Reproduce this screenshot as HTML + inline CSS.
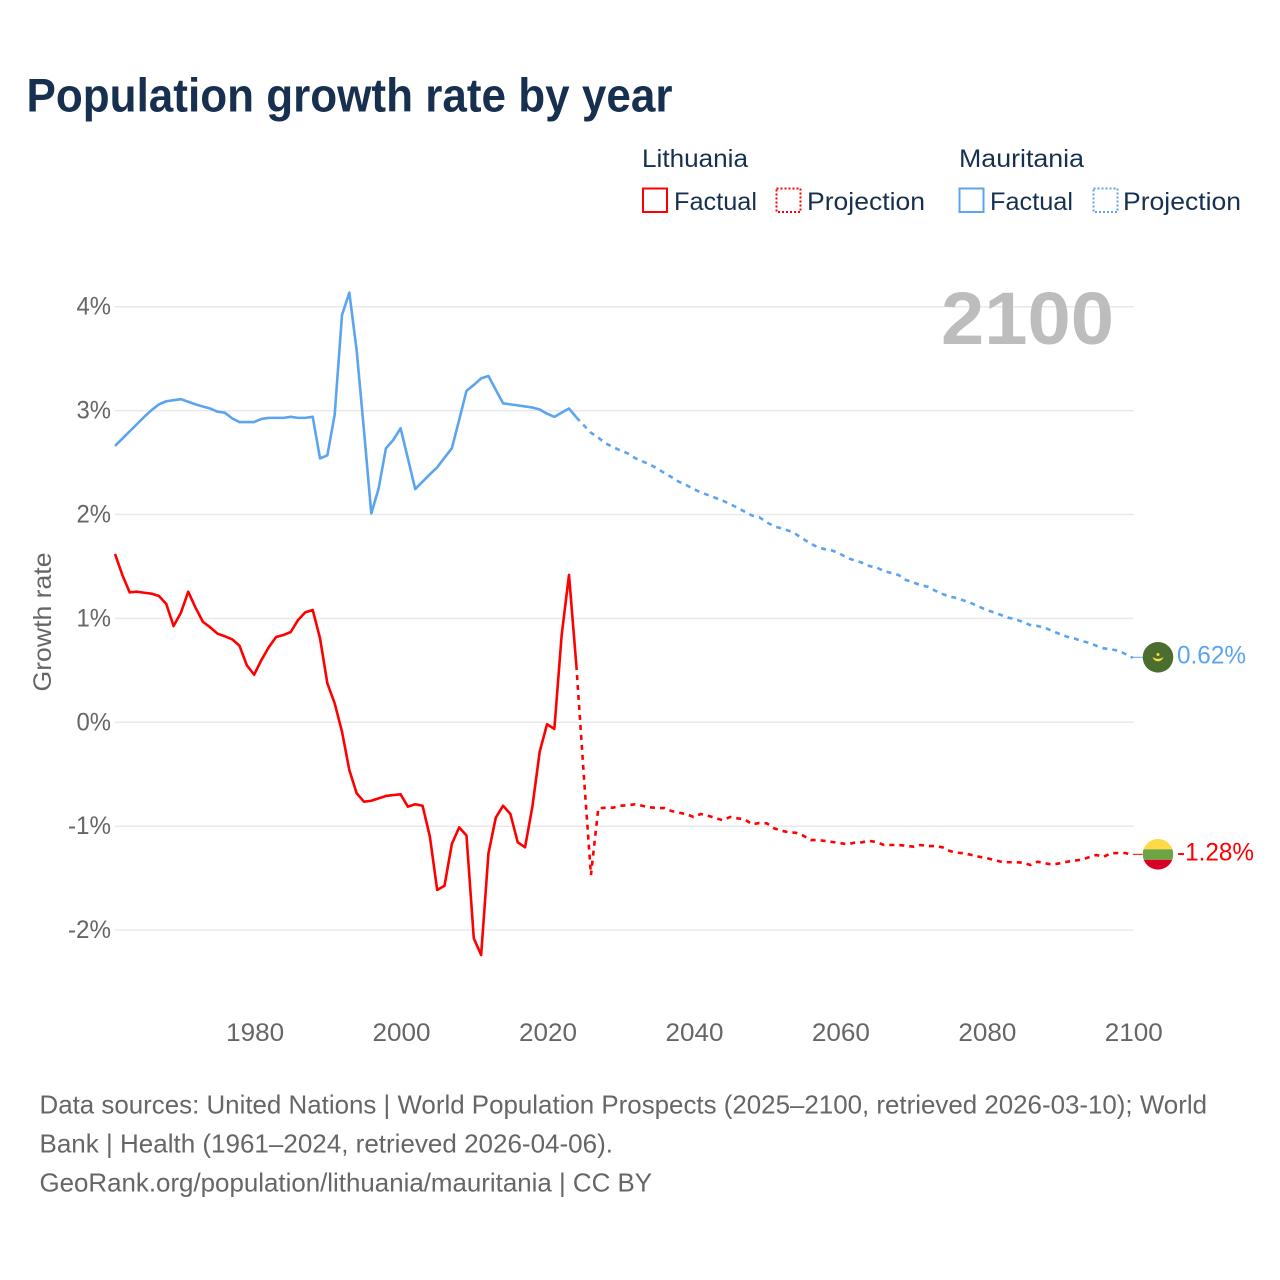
<!DOCTYPE html>
<html lang="en">
<head>
<meta charset="utf-8">
<title>Population growth rate by year</title>
<style>
html,body{margin:0;padding:0;background:#fff;width:1280px;height:1280px;overflow:hidden}
svg{display:block}
text{font-family:"Liberation Sans",Arial,sans-serif}
</style>
</head>
<body>
<svg id="chart" xmlns="http://www.w3.org/2000/svg" width="1280" height="1280" viewBox="0 0 1280 1280">
  <rect width="1280" height="1280" fill="#ffffff"/>
  <text x="26.5" y="111.5" font-size="47" font-weight="700" fill="#18304f" textLength="646" lengthAdjust="spacingAndGlyphs">Population growth rate by year</text>

  <g font-size="25" fill="#18304f">
    <text x="642" y="167" textLength="106" lengthAdjust="spacingAndGlyphs">Lithuania</text>
    <rect x="643" y="188.5" width="24" height="23.5" fill="none" stroke="#ff0000" stroke-width="2"/>
    <text x="674" y="210" textLength="83" lengthAdjust="spacingAndGlyphs">Factual</text>
    <rect x="776.5" y="188.5" width="24" height="23.5" fill="none" stroke="#ff0000" stroke-width="2" stroke-dasharray="2 2"/>
    <text x="807" y="210" textLength="118" lengthAdjust="spacingAndGlyphs">Projection</text>
    <text x="959" y="167" textLength="125" lengthAdjust="spacingAndGlyphs">Mauritania</text>
    <rect x="959.5" y="188.5" width="24" height="23.5" fill="none" stroke="#5ba4ef" stroke-width="2"/>
    <text x="990" y="210" textLength="83" lengthAdjust="spacingAndGlyphs">Factual</text>
    <rect x="1093.5" y="188.5" width="24" height="23.5" fill="none" stroke="#5ba4ef" stroke-width="2" stroke-dasharray="2 2"/>
    <text x="1123" y="210" textLength="118" lengthAdjust="spacingAndGlyphs">Projection</text>
  </g>

  <g id="grid"></g>
  <g id="yticks"></g>
  <g id="xticks"></g>
  <text transform="translate(51,622) rotate(-90)" text-anchor="middle" font-size="25" fill="#666666" textLength="139" lengthAdjust="spacingAndGlyphs">Growth rate</text>
  <text x="941" y="344" font-size="74" font-weight="700" fill="#bdbdbd" textLength="173" lengthAdjust="spacingAndGlyphs">2100</text>

  <g id="series"></g>
  <g id="ends"></g>

  <g font-size="26" fill="#666666">
    <text x="39.5" y="1113.5" textLength="1167.5" lengthAdjust="spacingAndGlyphs">Data sources: United Nations | World Population Prospects (2025–2100, retrieved 2026-03-10); World</text>
    <text x="39.5" y="1152.5" textLength="573.5" lengthAdjust="spacingAndGlyphs">Bank | Health (1961–2024, retrieved 2026-04-06).</text>
    <text x="39.5" y="1191.5" textLength="612.5" lengthAdjust="spacingAndGlyphs">GeoRank.org/population/lithuania/mauritania | CC BY</text>
  </g>
</svg>
<script>
const yTickValues = [4, 3, 2, 1, 0, -1, -2];
const xTickYears = [1980, 2000, 2020, 2040, 2060, 2080, 2100];
const factualStartYear = 1961;
const projectionStartYear = 2024;

const lithuaniaFactual = [1.62,1.418,1.251,1.257,1.247,1.238,1.216,1.139,.927,1.055,1.257,1.103,.968,.914,.853,.828,.799,.737,.549,.458,.6,.722,.821,.84,.869,.985,1.059,1.081,.808,.375,.183,-.09,-.459,-.683,-.764,-.755,-.732,-.709,-.70,-.693,-.812,-.789,-.803,-1.10,-1.614,-1.573,-1.171,-1.011,-1.09,-2.079,-2.24,-1.261,-.918,-.803,-.883,-1.155,-1.203,-.812,-.283,-.019,-.064,.84,1.418,.551];
const lithuaniaProjection = [.551,-.488,-1.47,-.828,-.822,-.822,-.803,-.799,-.789,-.803,-.818,-.825,-.825,-.854,-.87,-.883,-.911,-.883,-.899,-.921,-.943,-.911,-.924,-.934,-.982,-.969,-.972,-1.02,-1.043,-1.059,-1.063,-1.091,-1.133,-1.133,-1.142,-1.152,-1.162,-1.174,-1.159,-1.155,-1.142,-1.152,-1.181,-1.181,-1.181,-1.188,-1.197,-1.181,-1.191,-1.191,-1.203,-1.239,-1.255,-1.261,-1.277,-1.294,-1.306,-1.325,-1.342,-1.347,-1.347,-1.351,-1.373,-1.342,-1.357,-1.37,-1.357,-1.342,-1.332,-1.322,-1.299,-1.277,-1.294,-1.261,-1.258,-1.258,-1.28];
const mauritaniaFactual = [2.66,2.73,2.80,2.87,2.94,3.005,3.06,3.09,3.10,3.11,3.085,3.06,3.04,3.02,2.99,2.98,2.925,2.89,2.89,2.89,2.92,2.93,2.93,2.93,2.94,2.93,2.93,2.94,2.54,2.57,2.96,3.92,4.135,3.58,2.81,2.01,2.25,2.637,2.717,2.83,2.54,2.245,2.316,2.387,2.454,2.547,2.637,2.91,3.19,3.247,3.31,3.333,3.2,3.07,3.06,3.05,3.04,3.03,3.01,2.97,2.94,2.98,3.02,2.935];
const mauritaniaProjection = [2.935,2.86,2.787,2.74,2.685,2.65,2.617,2.589,2.544,2.512,2.483,2.445,2.40,2.36,2.316,2.284,2.246,2.213,2.187,2.16,2.133,2.10,2.065,2.027,1.99,1.973,1.925,1.886,1.867,1.844,1.81,1.764,1.72,1.684,1.665,1.652,1.623,1.581,1.559,1.536,1.504,1.49,1.456,1.437,1.418,1.37,1.347,1.32,1.305,1.267,1.235,1.209,1.196,1.17,1.145,1.113,1.081,1.059,1.033,1.007,.991,.965,.936,.927,.91,.879,.85,.824,.808,.782,.766,.737,.712,.703,.689,.657,.62];

const SVGNS = 'http://www.w3.org/2000/svg';
function xScale(year) { return 115 + (year - 1961) * 7.3225; }
function yScale(v) { return 722.3 - v * 103.9; }
function make(tag, parent, attrs) {
  const el = document.createElementNS(SVGNS, tag);
  for (const k in attrs) el.setAttribute(k, attrs[k]);
  parent.appendChild(el);
  return el;
}
function labelWidth(s) {
  let w = 0;
  for (const c of s) w += c === '%' ? 20 : c === '-' ? 8.5 : c === '.' ? 6 : 14.5;
  return w;
}
function pointsFor(values, startYear) {
  return values.map((v, i) => xScale(startYear + i).toFixed(2) + ',' + yScale(v).toFixed(2)).join(' ');
}

const gridG = document.getElementById('grid');
const yG = document.getElementById('yticks');
const xG = document.getElementById('xticks');
const seriesG = document.getElementById('series');
const endsG = document.getElementById('ends');

yTickValues.forEach(v => {
  const line = make('line', gridG, { x1: 115, x2: 1133.5, y1: yScale(v), y2: yScale(v), stroke: '#e9e9e9', 'stroke-width': 1.5 });
  
  
  const s = v + '%';
  const t = make('text', yG, { x: 111, y: yScale(v) + 8, 'text-anchor': 'end', 'font-size': 25, fill: '#666666', textLength: labelWidth(s), lengthAdjust: 'spacingAndGlyphs' });
  t.textContent = s;
  
  
});

xTickYears.forEach(year => {
  const s = String(year);
  const t = make('text', xG, { x: xScale(year) + 1, y: 1041, 'text-anchor': 'middle', 'font-size': 25, fill: '#666666', textLength: labelWidth(s), lengthAdjust: 'spacingAndGlyphs' });
  t.textContent = s;
  
  
});

const mauritaniaSolid = make('polyline', seriesG, { points: pointsFor(mauritaniaFactual, factualStartYear), fill: 'none', stroke: '#5ba4ef', 'stroke-width': 2.6, 'stroke-linejoin': 'round' });


const mauritaniaDash = make('polyline', seriesG, { points: pointsFor(mauritaniaProjection, projectionStartYear), fill: 'none', stroke: '#5ba4ef', 'stroke-width': 2.6, 'stroke-dasharray': '5 5' });


const lithuaniaSolid = make('polyline', seriesG, { points: pointsFor(lithuaniaFactual, factualStartYear), fill: 'none', stroke: '#ff0000', 'stroke-width': 2.6, 'stroke-linejoin': 'round' });


const lithuaniaDash = make('polyline', seriesG, { points: pointsFor(lithuaniaProjection, projectionStartYear), fill: 'none', stroke: '#ff0000', 'stroke-width': 2.6, 'stroke-dasharray': '5 5' });



const flagX = 1158;
const flagR = 15.3;
const xEnd = xScale(2100);

// Mauritania end marker
const mY = yScale(mauritaniaProjection[mauritaniaProjection.length - 1]) - 0.6;
const mConnector = make('line', endsG, { x1: xEnd, x2: flagX - flagR, y1: mY, y2: mY, stroke: '#5ba4ef', 'stroke-width': 1 });


const mFlag = make('g', endsG, {});


make('circle', mFlag, { cx: flagX, cy: mY, r: flagR, fill: '#496e2d' });
make('path', mFlag, { d: `M${flagX - 5.5} ${mY - 0.5} A5.6 5.6 0 0 0 ${flagX + 5.5} ${mY - 0.5} A6.5 4.4 0 0 1 ${flagX - 5.5} ${mY - 0.5}Z`, fill: '#ffda44' });
make('circle', mFlag, { cx: flagX, cy: mY - 2.8, r: 1.5, fill: '#ffda44' });
const mLabel = make('text', endsG, { x: 1177, y: mY + 6, 'font-size': 25, fill: '#5ba4ef', textLength: 69, lengthAdjust: 'spacingAndGlyphs' });
mLabel.textContent = mauritaniaProjection[mauritaniaProjection.length - 1].toFixed(2) + '%';



// Lithuania end marker
const lY = yScale(lithuaniaProjection[lithuaniaProjection.length - 1]) - 1;
const lConnector = make('line', endsG, { x1: xEnd, x2: flagX - flagR, y1: lY, y2: lY, stroke: '#ff0000', 'stroke-width': 1 });


const lFlag = make('g', endsG, {});


const clipDefs = make('clipPath', lFlag, { id: 'ltClip' });
make('circle', clipDefs, { cx: flagX, cy: lY, r: flagR });
make('rect', lFlag, { x: flagX - flagR, y: lY - flagR, width: flagR * 2, height: 10.3, fill: '#ffda44', 'clip-path': 'url(#ltClip)' });
make('rect', lFlag, { x: flagX - flagR, y: lY - flagR + 10.3, width: flagR * 2, height: 10.5, fill: '#6da544', 'clip-path': 'url(#ltClip)' });
make('rect', lFlag, { x: flagX - flagR, y: lY - flagR + 20.8, width: flagR * 2, height: 10, fill: '#d80027', 'clip-path': 'url(#ltClip)' });
const lLabel = make('text', endsG, { x: 1177, y: lY + 6, 'font-size': 25, fill: '#ff0000', textLength: 77, lengthAdjust: 'spacingAndGlyphs' });
lLabel.textContent = lithuaniaProjection[lithuaniaProjection.length - 1].toFixed(2) + '%';


</script>
</body>
</html>
